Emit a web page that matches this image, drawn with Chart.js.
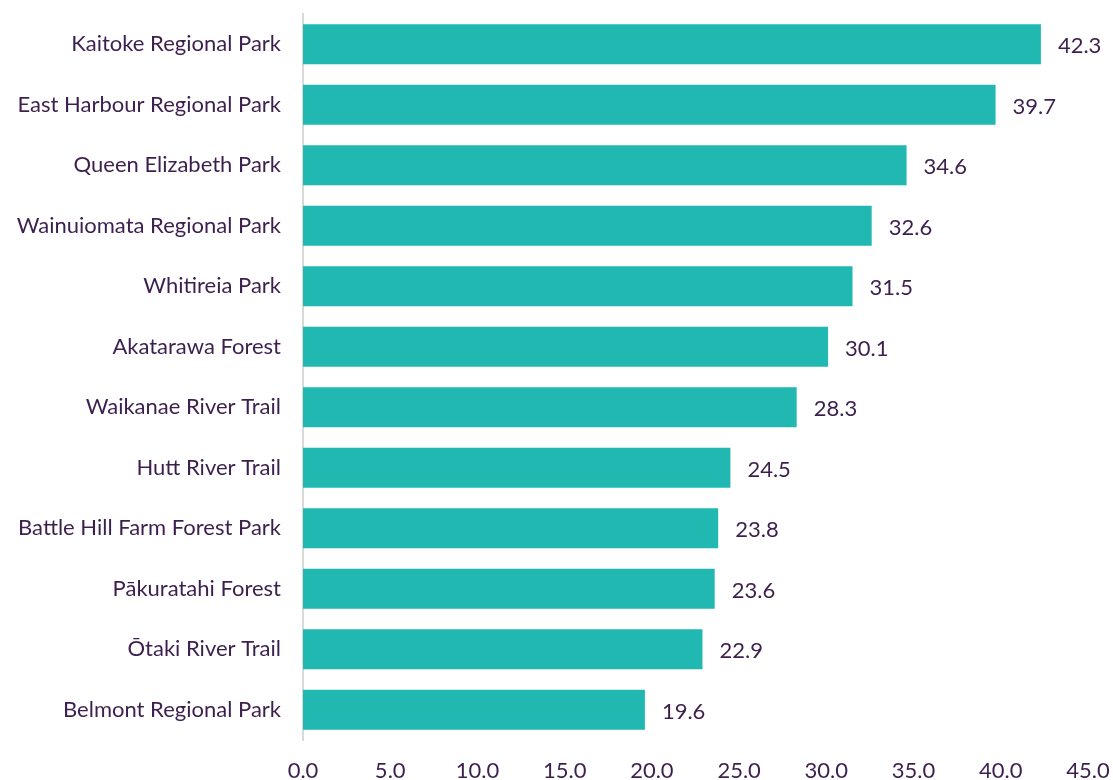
<!DOCTYPE html>
<html>
<head>
<meta charset="utf-8">
<script src="https://cdn.jsdelivr.net/npm/chart.js@4.4.0/dist/chart.umd.min.js"></script>
<style>
  html, body { margin: 0; padding: 0; background: #fff; }
  #wrap { width: 1113px; height: 780px; }
</style>
</head>
<body>
<div id="wrap"><canvas id="parkChart" width="1113" height="780"></canvas></div>
<script>
// data
const parks = [
  "Kaitoke Regional Park",
  "East Harbour Regional Park",
  "Queen Elizabeth Park",
  "Wainuiomata Regional Park",
  "Whitireia Park",
  "Akatarawa Forest",
  "Waikanae River Trail",
  "Hutt River Trail",
  "Battle Hill Farm Forest Park",
  "Pākuratahi Forest",
  "Ōtaki River Trail",
  "Belmont Regional Park"
];
const visits = [42.3, 39.7, 34.6, 32.6, 31.5, 30.1, 28.3, 24.5, 23.8, 23.6, 22.9, 19.6];
const xTicks = [0, 5, 10, 15, 20, 25, 30, 35, 40, 45];

const textColor = "#3d1f4e";
const barColor = "#20b8b0";
const fontFamily = "Lato, 'Open Sans', sans-serif";

// value labels at end of bars
const barLabels = {
  id: "barLabels",
  afterDatasetsDraw(chart) {
    const ctx = chart.ctx;
    const meta = chart.getDatasetMeta(0);
    ctx.save();
    ctx.font = "22px " + fontFamily;
    ctx.fillStyle = textColor;
    ctx.textAlign = "left";
    ctx.textBaseline = "middle";
    meta.data.forEach((bar, i) => {
      ctx.fillText(visits[i].toFixed(1), bar.x + 17, bar.y + 2);
    });
    ctx.restore();
  },
};

new Chart(document.getElementById("parkChart"), {
  type: "bar",
  data: {
    labels: parks,
    datasets: [
      {
        data: visits,
        backgroundColor: barColor,
        barPercentage: 0.66,
        categoryPercentage: 1,
      },
    ],
  },
  options: {
    indexAxis: "y",
    responsive: false,
    animation: false,
    layout: { padding: { top: 0, right: 25, bottom: 0, left: 0 } },
    plugins: {
      legend: { display: false },
      tooltip: { enabled: false },
    },
    scales: {
      x: {
        min: 0,
        max: 45,
        afterBuildTicks(axis) {
          axis.ticks = xTicks.map((v) => ({ value: v }));
        },
        afterFit(axis) {
          axis.height = 40;
          axis.paddingLeft = 0;
          axis.paddingRight = 0;
        },
        grid: { display: false, drawTicks: false },
        border: { display: false },
        ticks: {
          color: textColor,
          font: { size: 22, family: fontFamily },
          padding: 18,
          maxRotation: 0,
          callback: (v) => Number(v).toFixed(1),
        },
      },
      y: {
        afterFit(axis) {
          axis.width = 303;
          axis.paddingTop = 14;
          axis.paddingBottom = 0;
        },
        grid: { display: false, drawTicks: false },
        border: { display: true, color: "#d9d9d9", width: 2 },
        ticks: {
          color: textColor,
          font: { size: 22, family: fontFamily },
          padding: 22,
        },
      },
    },
  },
  plugins: [barLabels],
});
</script>
</body>
</html>
